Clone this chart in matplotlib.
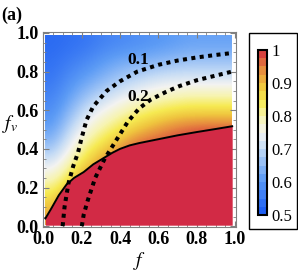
import numpy as np
import matplotlib
import matplotlib.pyplot as plt
from matplotlib.colors import LinearSegmentedColormap
from matplotlib.patches import Rectangle
from matplotlib.ticker import MultipleLocator

# grid of the coloured quantity (rows: fv = 0 .. 1, cols: f = 0 .. 1)
f_grid = [0.0, 0.1, 0.2, 0.3, 0.4, 0.5, 0.6, 0.7, 0.8, 0.9, 1.0]
fv_grid = [0.0, 0.1, 0.2, 0.3, 0.4, 0.5, 0.6, 0.7, 0.8, 0.9, 1.0]
z_rows = [
    [0.93, 1.00, 1.00, 1.00, 1.00, 1.00, 1.00, 1.00, 1.00, 1.00, 1.00],
    [0.87, 0.97, 1.00, 1.00, 1.00, 1.00, 1.00, 1.00, 1.00, 1.00, 1.00],
    [0.80, 0.88, 0.97, 1.00, 1.00, 1.00, 1.00, 1.00, 1.00, 1.00, 1.00],
    [0.73, 0.81, 0.89, 0.96, 1.00, 1.00, 1.00, 1.00, 1.00, 1.00, 1.00],
    [0.66, 0.75, 0.83, 0.88, 0.94, 1.00, 1.00, 1.00, 1.00, 1.00, 1.00],
    [0.61, 0.70, 0.77, 0.82, 0.86, 0.90, 0.94, 0.97, 0.99, 1.00, 1.00],
    [0.58, 0.65, 0.72, 0.76, 0.80, 0.83, 0.85, 0.87, 0.88, 0.88, 0.88],
    [0.56, 0.61, 0.66, 0.70, 0.73, 0.76, 0.78, 0.79, 0.80, 0.80, 0.80],
    [0.54, 0.58, 0.61, 0.64, 0.67, 0.69, 0.71, 0.72, 0.72, 0.72, 0.72],
    [0.53, 0.55, 0.57, 0.60, 0.62, 0.63, 0.64, 0.65, 0.66, 0.66, 0.66],
    [0.52, 0.53, 0.54, 0.56, 0.57, 0.58, 0.59, 0.60, 0.61, 0.61, 0.61],
]

# boundary of the saturated (red) region
edge_f = [0.01, 0.04, 0.08, 0.12, 0.16, 0.21, 0.26, 0.31, 0.36, 0.40, 0.45, 0.50, 0.60, 0.70, 0.80, 0.90, 0.985]
edge_fv = [0.04, 0.09, 0.16, 0.215, 0.25, 0.28, 0.32, 0.35, 0.38, 0.40, 0.418, 0.43, 0.45, 0.47, 0.487, 0.503, 0.517]

# dotted contours
c1_f = [0.10, 0.11, 0.13, 0.155, 0.18, 0.20, 0.225, 0.26, 0.33, 0.40, 0.49, 0.60, 0.70, 0.80, 0.90, 0.985]
c1_fv = [0.0, 0.10, 0.22, 0.31, 0.38, 0.46, 0.55, 0.62, 0.70, 0.75, 0.80, 0.835, 0.857, 0.873, 0.886, 0.896]
c2_f = [0.20, 0.21, 0.23, 0.27, 0.32, 0.38, 0.44, 0.50, 0.56, 0.64, 0.71, 0.80, 0.89, 0.985]
c2_fv = [0.0, 0.06, 0.13, 0.25, 0.35, 0.445, 0.54, 0.61, 0.655, 0.695, 0.725, 0.755, 0.777, 0.80]

cbar_ticks = [0.5, 0.6, 0.7, 0.8, 0.9, 1]
cbar_labels = ['0.5', '0.6', '0.7', '0.8', '0.9', '1']

cmap = LinearSegmentedColormap.from_list('temp', [
    (0.0, '#1f5ff2'), (0.2, '#5d9cf5'), (0.4, '#c6dcf5'), (0.5, '#f3f3f1'),
    (0.6, '#f7f4b2'), (0.7, '#f6ea52'), (0.8, '#efc43e'), (0.9, '#e78c3e'),
    (1.0, '#d8423e')])
red = '#d22a45'

plt.rcParams['font.family'] = ['Liberation Serif', 'DejaVu Serif']
plt.rcParams['mathtext.fontset'] = 'stix'

fig = plt.figure(figsize=(2.98, 2.73), dpi=100)
ax = fig.add_axes([0.144, 0.168, 0.648, 0.715])

z = np.array(z_rows)
ax.imshow(z, origin='lower', extent=(0.01, 0.985, 0.005, 0.985), cmap=cmap,
          vmin=0.5, vmax=1.0, interpolation='bicubic', aspect='auto', zorder=1)
ax.fill_between(edge_f, 0.005, edge_fv, color=red, lw=0, zorder=2)
ax.plot(edge_f, edge_fv, color='black', lw=1.4, zorder=3)
ax.plot(c1_f, c1_fv, color='black', lw=2.9, ls=(0, (1, 1.1)), zorder=4)
ax.plot(c2_f, c2_fv, color='black', lw=2.9, ls=(0, (1, 1.1)), zorder=4)
ax.text(0.495, 0.86, '0.1', fontsize=12.5, fontweight='bold', ha='center', va='center', zorder=5)
ax.text(0.495, 0.67, '0.2', fontsize=12.5, fontweight='bold', ha='center', va='center', zorder=5)

ax.set_xlim(-0.003, 1.005)
ax.set_ylim(-0.005, 1.005)
ax.xaxis.set_major_locator(MultipleLocator(0.2))
ax.yaxis.set_major_locator(MultipleLocator(0.2))
ax.xaxis.set_minor_locator(MultipleLocator(0.05))
ax.yaxis.set_minor_locator(MultipleLocator(0.05))
ax.tick_params(which='both', direction='in', top=True, right=True, color='#808080',
               labelsize=13, pad=3)
ax.tick_params(which='major', length=4, width=0.8)
ax.tick_params(which='minor', length=2, width=0.6)
ax.xaxis.set_major_formatter(matplotlib.ticker.FormatStrFormatter('%.1f'))
ax.yaxis.set_major_formatter(matplotlib.ticker.FormatStrFormatter('%.1f'))
for lab in ax.get_xticklabels() + ax.get_yticklabels():
    lab.set_fontweight('bold')
for sp in ax.spines.values():
    sp.set_color('#808080')
    sp.set_linewidth(0.8)

ax.set_xlabel('$f$', fontsize=14, labelpad=1)
ax.set_ylabel('$f_v$', fontsize=14, rotation=0)
ax.yaxis.set_label_coords(-0.17, 0.47)

fig.text(0.003, 0.975, '(a)', fontsize=13, fontweight='bold', ha='left', va='top')

# legend box
fig.patches.append(Rectangle((0.836, 0.161), 0.161, 0.718, transform=fig.transFigure,
                             fill=False, edgecolor='black', lw=1.0))
cax = fig.add_axes([0.866, 0.212, 0.030, 0.605])
sm = matplotlib.cm.ScalarMappable(cmap=cmap.resampled(20), norm=matplotlib.colors.Normalize(0.5, 1.0))
cb = fig.colorbar(sm, cax=cax, ticks=cbar_ticks)
cb.ax.set_yticklabels(cbar_labels)
cb.ax.tick_params(length=0, labelsize=12, pad=3)
cb.outline.set_linewidth(1.5)

fig.savefig('out.png', dpi=100)
